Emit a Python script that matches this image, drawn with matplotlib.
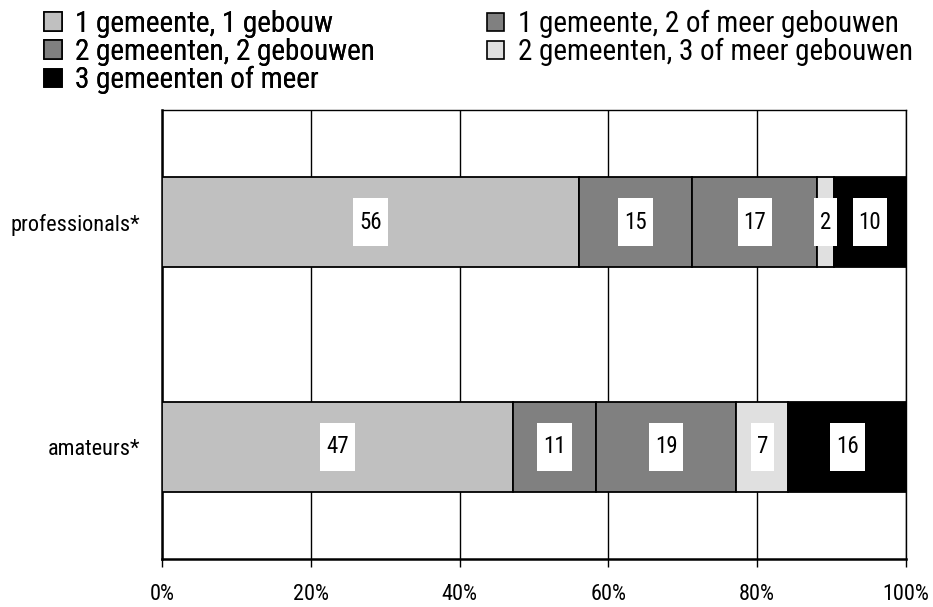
import matplotlib
matplotlib.use("Agg")
import matplotlib.pyplot as plt
from matplotlib.path import Path
from matplotlib.patches import Patch
from matplotlib import font_manager as fm

available = {f.name for f in fm.fontManager.ttflist}
prefs = ["Arial Narrow", "Liberation Sans Narrow", "Nimbus Sans Narrow",
         "Roboto Condensed", "Archivo Narrow", "PT Sans Narrow",
         "IBM Plex Sans Condensed", "Fira Sans Condensed", "Asap Condensed",
         "Encode Sans Condensed", "Pragati Narrow", "Open Sans Condensed"]
chosen = next((p for p in prefs if p in available), "DejaVu Sans")
plt.rcParams['font.family'] = [chosen, 'DejaVu Sans']

categories = ["professionals*", "amateurs*"]
series = ["1 gemeente, 1 gebouw", "1 gemeente, 2 of meer gebouwen",
          "2 gemeenten, 2 gebouwen", "2 gemeenten, 3 of meer gebouwen",
          "3 gemeenten of meer"]
prof = [56.0, 15.3, 16.8, 2.2, 9.7]
amat = [47.2, 11.1, 18.9, 7.0, 15.8]
labels_prof = ["56", "15", "17", "2", "10"]
labels_amat = ["47", "11", "19", "7", "16"]
xticks = [0, 20, 40, 60, 80, 100]
xticklabels = ["0%", "20%", "40%", "60%", "80%", "100%"]

colors = ["#C0C0C0", "#808080", "#808080", "#E0E0E0", "#000000"]


def tallbox(x0, y0, width, height, mutation_size):
    padx = 0.26 * mutation_size
    pady = 0.55 * mutation_size
    x0, y0 = x0 - padx, y0 - pady
    x1, y1 = x0 + width + 2 * padx, y0 + height + 2 * pady
    return Path([(x0, y0), (x1, y0), (x1, y1), (x0, y1), (x0, y0)], closed=True)


W, H = 933, 607
fig = plt.figure(figsize=(W / 100, H / 100), dpi=100)
ax = fig.add_axes([162 / W, 1 - 559 / H, 744 / W, 449 / H])

data = [prof, amat]
labs = [labels_prof, labels_amat]
for yi, (vals, lbls) in enumerate(zip(data, labs)):
    left = 0
    for si, v in enumerate(vals):
        ax.barh(yi, v, left=left, height=0.40, color=colors[si],
                edgecolor="black", linewidth=1.3, zorder=3)
        ax.text(left + v / 2, yi, lbls[si], ha="center", va="center",
                fontsize=16.5, color="black", zorder=4,
                bbox=dict(boxstyle=tallbox, facecolor="white",
                          edgecolor="none"))
        left += v

ax.set_xlim(0, 100)
ax.set_ylim(1.5, -0.5)
ax.set_yticks([0, 1])
ax.set_yticklabels(categories, fontsize=16)
ax.tick_params(axis="y", length=0, pad=16)
ax.set_xticks(xticks)
ax.set_xticklabels(xticklabels, fontsize=16)
ax.tick_params(axis="x", length=6, width=1, direction="out", pad=12)
ax.grid(axis="x", color="black", linewidth=1.0, zorder=0)
for s in ax.spines.values():
    s.set_color("black")
    s.set_linewidth(1.0)
ax.spines["left"].set_linewidth(1.8)
ax.spines["bottom"].set_linewidth(1.8)
ax.set_axisbelow(True)

handles = [Patch(facecolor=c, edgecolor="black", linewidth=1.2) for c in colors]
leg_kw = dict(loc="upper left", frameon=False, fontsize=21,
              handlelength=0.6, handleheight=0.6, handletextpad=0.45,
              labelspacing=0.0, borderpad=0, borderaxespad=0)
leg1 = fig.legend([handles[0], handles[2], handles[4]],
                  [series[0], series[2], series[4]],
                  bbox_to_anchor=(44 / W, 1 - 10 / H), **leg_kw)
fig.add_artist(leg1)
fig.legend([handles[1], handles[3]], [series[1], series[3]],
           bbox_to_anchor=(487 / W, 1 - 10 / H), **leg_kw)

fig.savefig("out.png", dpi=100)
